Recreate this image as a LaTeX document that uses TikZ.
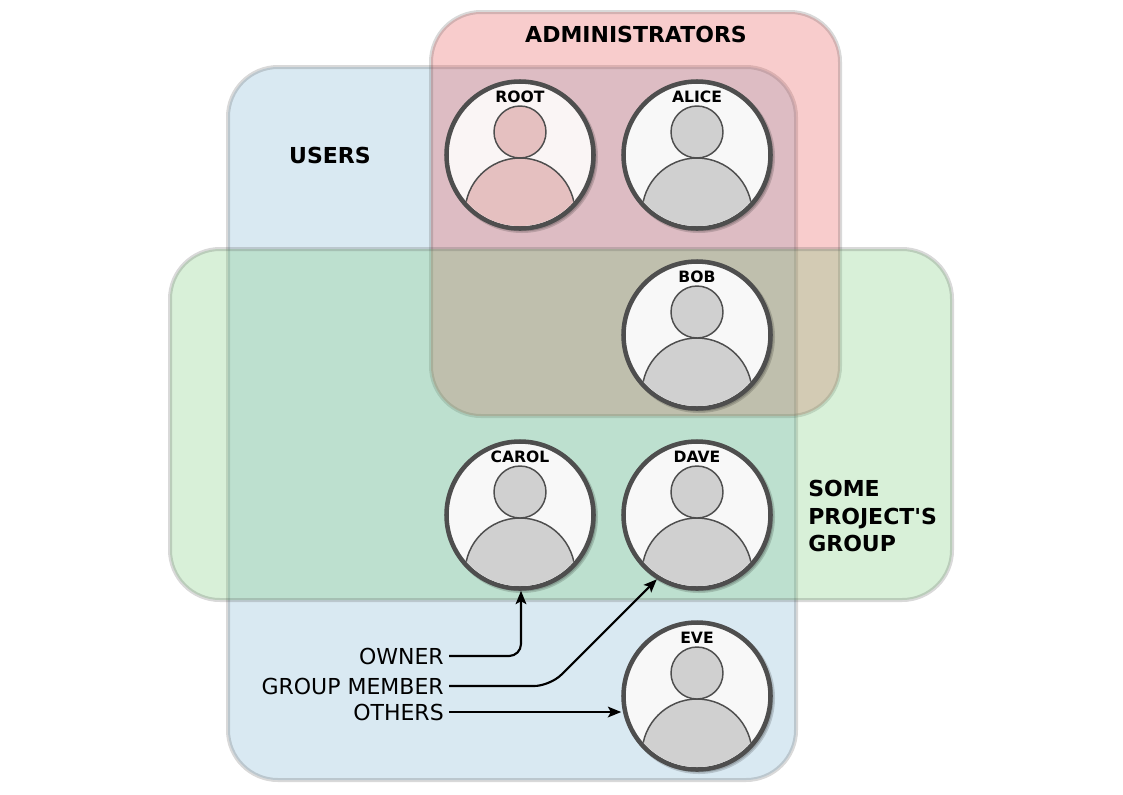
\documentclass[tikz,border=0pt]{standalone}
\usepackage{fontspec}
\setmainfont{DejaVu Sans}
\usetikzlibrary{arrows.meta, positioning}
\definecolor{myblue}{RGB}{119,176,209}
\definecolor{myred}{RGB}{230,73,73}
\definecolor{mygreen}{RGB}{116,201,116}
\definecolor{myedge}{RGB}{80,80,80}
\definecolor{mydark}{RGB}{78,78,78}
\definecolor{facegray}{RGB}{208,208,208}
\definecolor{backgray}{RGB}{248,248,248}
\definecolor{facered}{RGB}{229,192,192}
\definecolor{backred}{RGB}{250,245,245}
\tikzset{
  groupbox/.style={draw=myedge, draw opacity=0.22, line width=3pt, rounded corners=37.5pt, fill opacity=0.28},
  grouplabel/.style={font=\fontsize{16.5}{20.5}\selectfont\bfseries, align=left, inner sep=0pt},
  personcirc/.style={circle, draw=mydark, line width=3.4pt, inner sep=0pt, minimum size=110.25pt},
  personpart/.style={draw=mydark, line width=1.1pt},
  personname/.style={font=\fontsize{11.7}{13}\selectfont\bfseries, inner sep=0pt},
  rolelabel/.style={font=\fontsize{16.5}{20}\selectfont, inner sep=3.75pt, anchor=east},
  arrow/.style={-{Stealth[length=10pt,width=8pt,inset=2.2pt]}, line width=1.6pt, color=black}
}
% person icon: name, x, y, label, face colour, back colour
\newcommand{\personicon}[6]{
  \foreach \r in {73,74.5,76}
    \fill[black, opacity=0.16] (#2+2,#3+2) circle (\r);
  \node[personcirc, fill=#6] (#1) at (#2,#3) {};
  \begin{scope}
    \clip (#2,#3) circle (71);
    \draw[personpart, fill=#5] (#2,#3+58) circle (55);
  \end{scope}
  \draw[personpart, fill=#5] (#2,#3-23) circle (26);
  \node[personname] (#1name) at (#2,#3-58.5) {#4};
}
\begin{document}
\begin{tikzpicture}[x=0.75pt, y=-0.75pt]
  \useasboundingbox (0,0) rectangle (1123,794);

  % Group boxes
  \draw[groupbox, fill=myblue] (228,67) rectangle (796,780);
  \draw[groupbox, fill=myred] (431,12) rectangle (840,416);
  \draw[groupbox, fill=mygreen] (170,249) rectangle (952,600);

  \node[grouplabel] (adminlabel) at (636,34) {ADMINISTRATORS};
  \node[grouplabel] (userslabel) at (330,155) {USERS};
  \node[grouplabel, anchor=west] (projectlabel) at (808,516) {SOME\\PROJECT\textquotesingle S\\GROUP};

  % People
  \personicon{root}{520}{155}{ROOT}{facered}{backred}
  \foreach \name/\cx/\cy/\lbl in {alice/697/155/ALICE, bob/697/335/BOB, carol/520/515/CAROL, dave/697/515/DAVE, eve/697/696/EVE} {
    \personicon{\name}{\cx}{\cy}{\lbl}{facegray}{backgray}
  }

  % Permission classes
  \node[rolelabel] (owner) at (449,656) {OWNER};
  \node[rolelabel] (member) at (449,686) {GROUP MEMBER};
  \node[rolelabel] (others) at (449,712) {OTHERS};

  \draw[arrow, rounded corners=9pt] (owner.east) -| ([xshift=0.75pt]carol.south);
  \draw[arrow, rounded corners=12pt] (member.east) -- (550,686) -- (dave.238);
  \draw[arrow] (others.east) -- (others.east -| eve.west);
\end{tikzpicture}
\end{document}
